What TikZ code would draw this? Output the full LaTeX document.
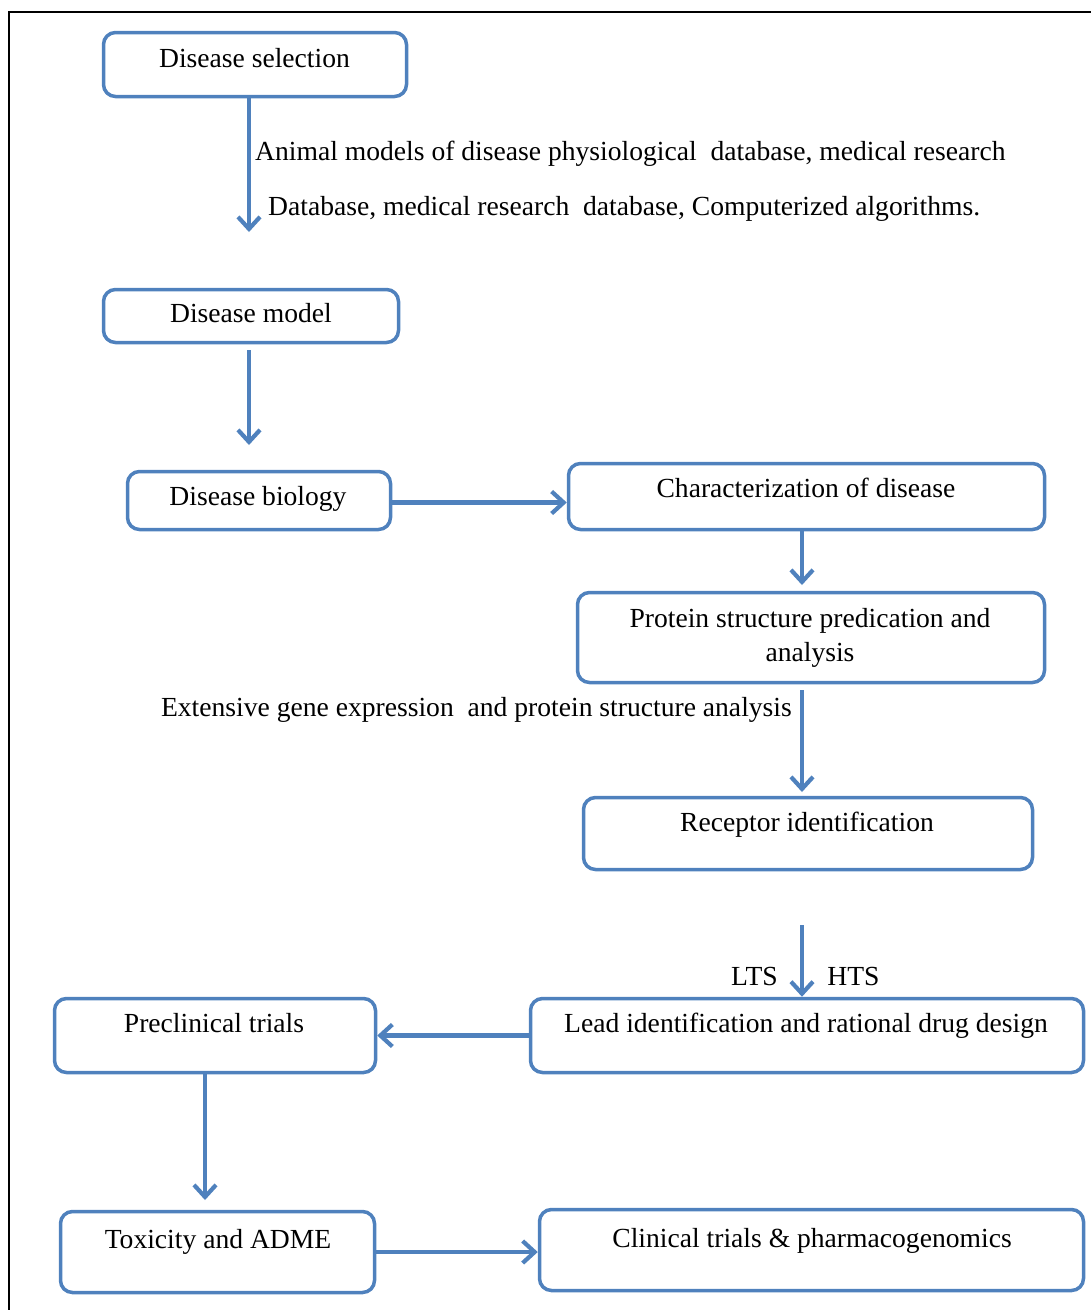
\documentclass[tikz,border=0pt]{standalone}
\usepackage{fontspec}
\setmainfont{Liberation Serif}
\usetikzlibrary{arrows.meta}

\begin{document}
\begin{tikzpicture}[x=1pt, y=-1pt,
  box/.style={draw=FlowBlue, line width=3.5pt, rounded corners=12pt, inner sep=0pt},
  txt/.style={inner sep=0pt, font=\fontsize{27.6}{34}\selectfont},
  flow/.style={draw=FlowBlue, line width=4.2pt, -{Straight Barb[length=12pt,width=22pt]}}]


\definecolor{FlowBlue}{RGB}{79,129,189}
\useasboundingbox (0,0) rectangle (1091,1310);

% Frame
\draw[line width=2pt,black] (9,1310) -- (9,12) -- (1091,12);

% Boxes
\node[box, minimum width=303pt, minimum height=64pt] (sel)   at (255,64.5)   {};
\node[box, minimum width=295pt, minimum height=53pt] (model) at (251,316)    {};
\node[box, minimum width=263pt, minimum height=58pt] (bio)   at (259,500.5)  {};
\node[box, minimum width=476pt, minimum height=66pt] (char)  at (806.5,496.5) {};
\node[box, minimum width=467pt, minimum height=90pt] (prot)  at (811,637.5)  {};
\node[box, minimum width=449pt, minimum height=72pt] (rec)   at (808,833.5)  {};
\node[box, minimum width=553pt, minimum height=74pt] (lead)  at (807,1035.5) {};
\node[box, minimum width=321pt, minimum height=74pt] (pre)   at (215,1035.5) {};
\node[box, minimum width=314pt, minimum height=81pt] (tox)   at (217.5,1252) {};
\node[box, minimum width=544pt, minimum height=81pt] (clin)  at (811.5,1250) {};

% Box texts
\node[txt, anchor=base] (selT)   at (254.5,67)  {Disease selection};
\node[txt, anchor=base] (modelT) at (251,322)   {Disease model};
\node[txt, anchor=base] (bioT)   at (258,505)   {Disease biology};
\node[txt, anchor=base] (charT)  at (806,497)   {Characterization of disease};
\node[txt, anchor=north, align=center] (protT) at (810,608)
     {Protein structure predication and\\analysis};
\node[txt, anchor=base] (recT)   at (807,831)   {Receptor identification};
\node[txt, anchor=base] (leadT)  at (806,1032)  {Lead identification and rational drug design};
\node[txt, anchor=base] (preT)   at (214,1032)  {Preclinical trials};
\node[txt, anchor=base] (toxT)   at (218,1248)  {Toxicity and ADME};
\node[txt, anchor=base] (clinT)  at (812,1247)  {Clinical trials \& pharmacogenomics};

% Arrows
\coordinate (selTip)   at (249,232);
\coordinate (modTop)   at (249,350);
\coordinate (modTip)   at (249,445);
\coordinate (protTip)  at (802,585);
\coordinate (recTop)   at (802,690);
\coordinate (recTip)   at (802,792);
\coordinate (leadTop)  at (802,925);
\coordinate (toxTip)   at (205,1200);

\draw[flow] (sel.south -| selTip) -- (selTip);
\draw[flow] (modTop) -- (modTip);
\draw[flow] ([yshift=-2pt]bio.east) -- ([yshift=-2pt]bio.east -| char.west);
\draw[flow] (char.south -| protTip) -- (protTip);
\draw[flow] (recTop) -- (recTip);
\draw[flow] (leadTop) -- (leadTop |- lead.north);
\draw[flow] (lead.west) -- (pre.east);
\draw[flow] (pre.south -| toxTip) -- (toxTip);
\draw[flow] (tox.east) -- (tox.east -| clin.west);

% Labels
\node[txt, anchor=base west] (animalL) at (255,160)
     {Animal models of disease physiological\ \ database, medical research};
\node[txt, anchor=base west] (dataL) at (268,215)
     {Database, medical research\ \ database, Computerized algorithms.};
\node[txt, anchor=base east] (geneL) at (792,716)
     {Extensive gene expression\ \ and protein structure analysis};
\node[txt, anchor=base] (ltsL) at (754.5,985) {LTS};
\node[txt, anchor=base] (htsL) at (853.5,985) {HTS};

\end{tikzpicture}
\end{document}
